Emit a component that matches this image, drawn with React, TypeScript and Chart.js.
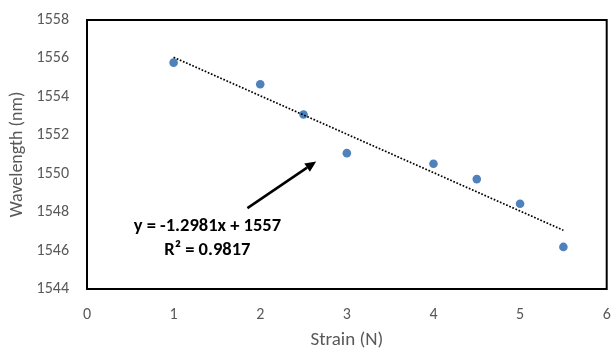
import React, { useEffect, useRef } from "react";
import { Chart, registerables } from "chart.js";

Chart.register(...registerables);

const strain = [1, 2, 2.5, 3, 4, 4.5, 5, 5.5];
const wavelength = [1555.78, 1554.66, 1553.08, 1551.07, 1550.52, 1549.72, 1548.44, 1546.19];
const equationLines = ["y = -1.2981x + 1557", "R² = 0.9817"];
const equationAnchor = { x: 1.39, y: 1547.28 };
const arrowFrom = { x: 1.852, y: 1548.21 };
const arrowTo = { x: 2.646, y: 1550.64 };

// Least-squares trendline over the measured points (as Excel does)
function linearFit(xs: number[], ys: number[]) {
  const n = xs.length;
  const mx = xs.reduce((a, b) => a + b, 0) / n;
  const my = ys.reduce((a, b) => a + b, 0) / n;
  let sxy = 0, sxx = 0;
  for (let i = 0; i < n; i++) {
    sxy += (xs[i] - mx) * (ys[i] - my);
    sxx += (xs[i] - mx) * (xs[i] - mx);
  }
  const m = sxy / sxx;
  return { m, b: my - m * mx };
}

const FONT = "Carlito, Lato, 'Open Sans', sans-serif";

export default function App() {
  const ref = useRef<HTMLCanvasElement | null>(null);

  useEffect(() => {
    document.body.style.margin = "0";
    const canvas = ref.current;
    if (!canvas) return;
    const fit = linearFit(strain, wavelength);
    const xMin = Math.min(...strain);
    const xMax = Math.max(...strain);
    const trend = [
      { x: xMin, y: fit.m * xMin + fit.b },
      { x: xMax, y: fit.m * xMax + fit.b },
    ];

    const overlay = {
      id: "overlay",
      afterDatasetsDraw(chart: any) {
        const { ctx, chartArea, scales } = chart;
        const xs = scales.x, ys = scales.y;
        ctx.save();
        // frame
        ctx.strokeStyle = "#000";
        ctx.lineWidth = 2;
        ctx.strokeRect(chartArea.left, chartArea.top, chartArea.right - chartArea.left, chartArea.bottom - chartArea.top);
        // arrow
        const x1 = xs.getPixelForValue(arrowFrom.x), y1 = ys.getPixelForValue(arrowFrom.y);
        const x2 = xs.getPixelForValue(arrowTo.x), y2 = ys.getPixelForValue(arrowTo.y);
        const ang = Math.atan2(y2 - y1, x2 - x1);
        const head = 11, hw = 5;
        const bx = x2 - head * Math.cos(ang), by = y2 - head * Math.sin(ang);
        ctx.lineWidth = 2.5;
        ctx.beginPath();
        ctx.moveTo(x1, y1);
        ctx.lineTo(bx, by);
        ctx.stroke();
        ctx.fillStyle = "#000";
        ctx.beginPath();
        ctx.moveTo(x2, y2);
        ctx.lineTo(bx + hw * Math.sin(ang), by - hw * Math.cos(ang));
        ctx.lineTo(bx - hw * Math.sin(ang), by + hw * Math.cos(ang));
        ctx.closePath();
        ctx.fill();
        // equation
        const ex = xs.getPixelForValue(equationAnchor.x), ey = ys.getPixelForValue(equationAnchor.y);
        ctx.font = `bold 18.5px ${FONT}`;
        ctx.textAlign = "center";
        ctx.textBaseline = "middle";
        ctx.fillStyle = "#000";
        equationLines.forEach((t, i) => ctx.fillText(t, ex, ey + i * 24));
        ctx.restore();
      },
    };

    const fitAxis = (size: number, horizontal: boolean) => (scale: any) => {
      if (horizontal) scale.height = size; else scale.width = size;
      scale.paddingLeft = 0;
      scale.paddingRight = 0;
      scale.paddingTop = 0;
      scale.paddingBottom = 0;
    };

    const plain = (v: any) => String(v);

    const chart = new Chart(canvas, {
      type: "scatter",
      data: {
        datasets: [
          {
            label: "Trend",
            data: trend,
            showLine: true,
            borderColor: "#000",
            borderWidth: 1.7,
            borderDash: [1.7, 1.7],
            pointRadius: 0,
            order: 0,
          },
          {
            label: "Wavelength",
            data: strain.map((x, i) => ({ x, y: wavelength[i] })),
            backgroundColor: "#4F81BD",
            borderColor: "#4F81BD",
            pointRadius: 4.3,
            pointBorderWidth: 0,
            order: 1,
          },
        ],
      },
      plugins: [overlay],
      options: {
        responsive: false,
        animation: false,
        layout: { padding: { top: 20, right: 2, left: 0, bottom: 0 } },
        plugins: { legend: { display: false }, tooltip: { enabled: false } },
        scales: {
          x: {
            type: "linear",
            min: 0,
            max: 6,
            afterFit: fitAxis(62, true),
            grid: { display: false, drawTicks: false },
            border: { display: false },
            ticks: { stepSize: 1, callback: plain, color: "#595959", font: { family: FONT, size: 16 }, padding: 16, maxRotation: 0 },
            title: { display: true, text: "Strain (N)", color: "#595959", font: { family: FONT, size: 19, lineHeight: 1.1 }, padding: { top: 0, bottom: 0 } },
          },
          y: {
            type: "linear",
            min: 1544,
            max: 1558,
            afterFit: fitAxis(87, false),
            grid: { display: false, drawTicks: false },
            border: { display: false },
            ticks: { stepSize: 2, callback: plain, color: "#595959", font: { family: FONT, size: 16 }, padding: 18 },
            title: { display: true, text: "Wavelength (nm)", color: "#595959", font: { family: FONT, size: 18, lineHeight: 1.2 }, padding: { top: 7, bottom: 0 } },
          },
        },
      },
    });
    return () => chart.destroy();
  }, []);

  return <canvas ref={ref} width={611} height={351} style={{ display: "block" }} />;
}
